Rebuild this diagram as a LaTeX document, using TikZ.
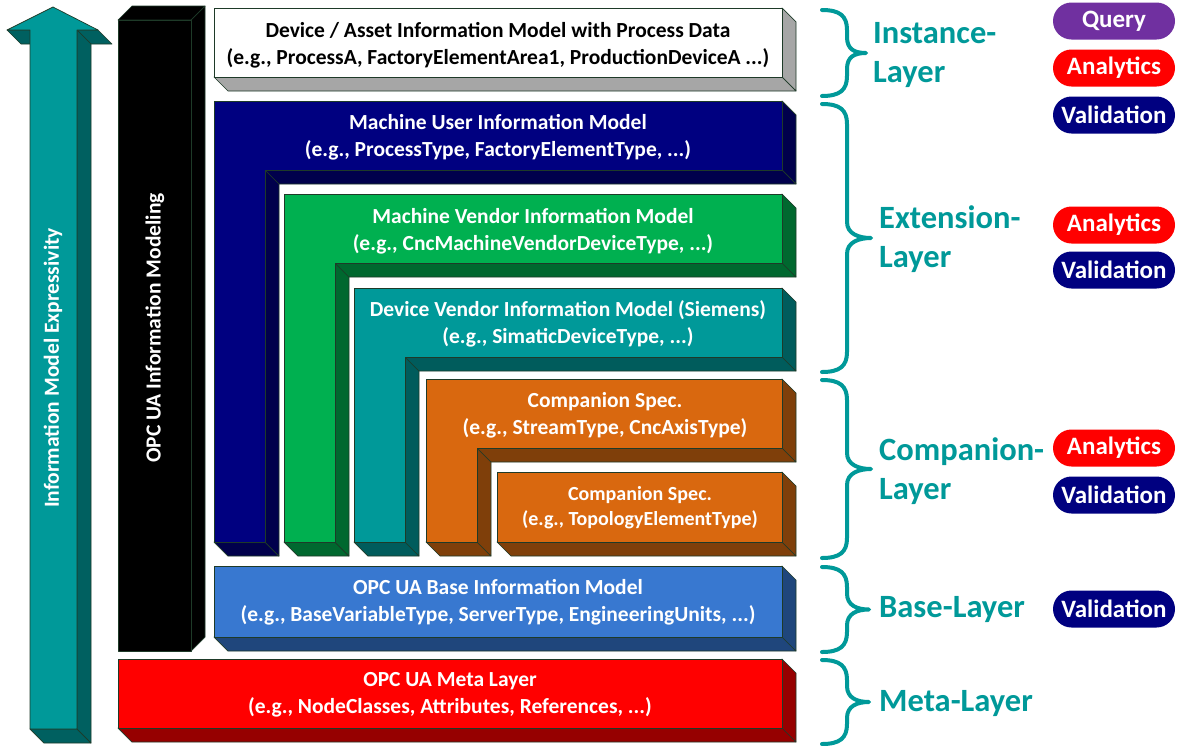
\documentclass[tikz,border=0pt]{standalone}
\usepackage{fontspec}
\setmainfont{Carlito}
\definecolor{edgecol}{HTML}{1E3A28}
\definecolor{teal1}{HTML}{009999}
\definecolor{teal2}{HTML}{006060}
\definecolor{navy1}{HTML}{000080}
\definecolor{navy2}{HTML}{00004C}
\definecolor{green1}{HTML}{00B050}
\definecolor{green2}{HTML}{00682F}
\definecolor{dvteal2}{HTML}{005C5C}
\definecolor{orange1}{HTML}{D9680F}
\definecolor{orange2}{HTML}{7F3F0A}
\definecolor{blue1}{HTML}{3878D0}
\definecolor{blue2}{HTML}{1F467C}
\definecolor{red1}{HTML}{FF0000}
\definecolor{red2}{HTML}{960000}
\definecolor{gray2}{HTML}{A6A6A6}
\definecolor{purp}{HTML}{7030A0}
\tikzset{
  face/.style={draw=edgecol, line width=0.7pt, line join=round},
  lbl/.style={font=\fontsize{21.5}{27}\selectfont\bfseries, text=white, align=center, inner sep=0pt},
  lblsmall/.style={font=\fontsize{20}{25}\selectfont\bfseries, text=white, align=center, inner sep=0pt},
  layerlbl/.style={font=\fontsize{32.5}{39}\selectfont\bfseries, text=teal1, align=left, anchor=west, inner sep=0pt},
  pill/.style={rectangle, rounded corners=18.5pt, minimum width=122pt, minimum height=37pt, inner sep=0pt,
    font=\fontsize{25}{28}\selectfont\bfseries, text=white},
  bracestyle/.style={draw=teal1, line width=4pt, line cap=round, line join=round}
}
% plain 3D box: x1 y1 x2 y2 front side
\newcommand\plainbox[6]{%
  \path[face, fill=#6] (#1,#4) -- (#3,#4) -- ({#3+14},{#4+14}) -- ({#1+14},{#4+14}) -- cycle;
  \path[face, fill=#6] (#3,#2) -- ({#3+14},{#2+14}) -- ({#3+14},{#4+14}) -- (#3,#4) -- cycle;
  \path[face, fill=#5] (#1,#2) rectangle (#3,#4);
}
% L-shaped 3D box: x1 y1 x2 yb xv y3 front side
\newcommand\lbox[8]{%
  \path[face, fill=#8] (#1,#6) -- (#5,#6) -- ({#5+14},{#6+14}) -- ({#1+14},{#6+14}) -- cycle;
  \path[face, fill=#8] (#5,#4) -- ({#5+14},{#4+14}) -- ({#5+14},{#6+14}) -- (#5,#6) -- cycle;
  \path[face, fill=#8] (#5,#4) -- (#3,#4) -- ({#3+14},{#4+14}) -- ({#5+14},{#4+14}) -- cycle;
  \path[face, fill=#8] (#3,#2) -- ({#3+14},{#2+14}) -- ({#3+14},{#4+14}) -- (#3,#4) -- cycle;
  \path[face, fill=#7] (#1,#2) -- (#3,#2) -- (#3,#4) -- (#5,#4) -- (#5,#6) -- (#1,#6) -- cycle;
}
% brace: top bottom tipx
\newcommand\mybrace[3]{%
  \draw[bracestyle] (822,#1) .. controls (840,#1) and (847,{#1+6}) .. (847,{#1+20})
    -- (847,{(#1+#2)/2-16}) .. controls (847,{(#1+#2)/2-4}) and ({#3-12},{(#1+#2)/2}) .. (#3,{(#1+#2)/2})
    .. controls ({#3-12},{(#1+#2)/2}) and (847,{(#1+#2)/2+4}) .. (847,{(#1+#2)/2+16})
    -- (847,{#2-20}) .. controls (847,{#2-6}) and (840,#2) .. (822,#2);
}
\begin{document}
\begin{tikzpicture}[x=1pt, y=-1pt]
\useasboundingbox (0,0) rectangle (1183,745);
\fill[white] (0,0) rectangle (1183,745);

% expressivity arrow
\path[face, fill=teal2] (7,30) -- (30,30) -- (44,44) -- (21,44) -- cycle;
\path[face, fill=teal2] (77,30) -- (98,30) -- (112,44) -- (91,44) -- cycle;
\path[face, fill=teal2] (77,30) -- (91,44) -- (91,743) -- (77,729) -- cycle;
\path[face, fill=teal2] (30,729) -- (77,729) -- (91,743) -- (44,743) -- cycle;
\path[face, fill=teal1] (30,729) -- (30,30) -- (7,30) -- (53,7) -- (98,30) -- (77,30) -- (77,729) -- cycle;
\node[lbl, rotate=90] (arrowtext) at (53,368) {Information Model Expressivity};

% OPC UA information modeling column
\path[face, fill=black] (118,20) -- (132,6) -- (205,6) -- (191,20) -- cycle;
\path[face, fill=black] (191,20) -- (205,6) -- (205,637) -- (191,651) -- cycle;
\path[face, fill=black] (118,20) rectangle (191,651);
\node[lbl, rotate=90] (coltext) at (155,328) {OPC UA Information Modeling};

% boxes
\plainbox{214}{8}{782}{77}{white}{gray2}
\node[lbl, text=black] (instbox) at (498,45) {Device / Asset Information Model with Process Data\\(e.g., ProcessA, FactoryElementArea1, ProductionDeviceA ...)};

\lbox{214}{101}{782}{170}{265}{542}{navy1}{navy2}
\node[lbl] (muser) at (498,137) {Machine User Information Model\\(e.g., ProcessType, FactoryElementType, ...)};

\lbox{284}{194}{782}{263}{335}{542}{green1}{green2}
\node[lbl] (mvendor) at (533,231) {Machine Vendor Information Model\\(e.g., CncMachineVendorDeviceType, ...)};

\lbox{354}{288}{782}{357}{405}{542}{teal1}{dvteal2}
\node[lbl] (dvendor) at (568,324) {Device Vendor Information Model (Siemens)\\(e.g., SimaticDeviceType, ...)};

\lbox{426}{379}{782}{448}{477}{542}{orange1}{orange2}
\node[lbl] (comp1) at (605,415) {Companion Spec.\\(e.g., StreamType, CncAxisType)};

\plainbox{497}{472}{782}{542}{orange1}{orange2}
\node[lblsmall] (comp2) at (640,508) {Companion Spec.\\(e.g., TopologyElementType)};

\plainbox{214}{566}{782}{637}{blue1}{blue2}
\node[lbl] (base) at (498,602) {OPC UA Base Information Model\\(e.g., BaseVariableType, ServerType, EngineeringUnits, ...)};

\plainbox{118}{659}{782}{728}{red1}{red2}
\node[lbl] (meta) at (450,695) {OPC UA Meta Layer\\(e.g., NodeClasses, Attributes, References, ...)};

% braces
\mybrace{10}{96}{866}
\mybrace{104}{372}{871}
\mybrace{380}{558}{871}
\mybrace{567}{652}{869}
\mybrace{660}{744}{869}

% layer labels
\node[layerlbl] (linst) at (873,55) {Instance-\\Layer};
\node[layerlbl] (lext) at (879,239) {Extension-\\Layer};
\node[layerlbl] (lcomp) at (879,471) {Companion-\\Layer};
\node[layerlbl] (lbase) at (879,610) {Base-Layer};
\node[layerlbl] (lmeta) at (879,704) {Meta-Layer};

% pills
\node[pill, fill=purp] (q1) at (1114,21) {Query};
\node[pill, fill=red1] (a1) at (1114,68) {Analytics};
\node[pill, fill=navy1] (v1) at (1114,115) {Validation};
\node[pill, fill=red1] (a2) at (1114,225) {Analytics};
\node[pill, fill=navy1] (v2) at (1114,270) {Validation};
\node[pill, fill=red1] (a3) at (1114,448) {Analytics};
\node[pill, fill=navy1] (v3) at (1114,495) {Validation};
\node[pill, fill=navy1] (v4) at (1114,609) {Validation};
\end{tikzpicture}
\end{document}
